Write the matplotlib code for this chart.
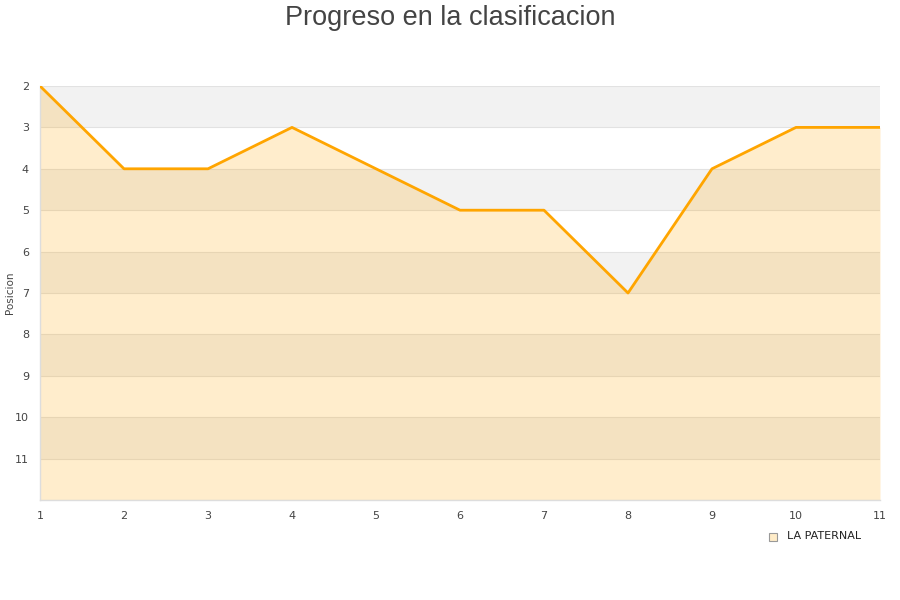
import matplotlib
matplotlib.use("Agg")
import matplotlib.pyplot as plt

jornadas = [1, 2, 3, 4, 5, 6, 7, 8, 9, 10, 11]
posicion = [2, 4, 4, 3, 4, 5, 5, 7, 4, 3, 3]
equipo = "LA PATERNAL"
y_ticks = [2, 3, 4, 5, 6, 7, 8, 9, 10, 11]

fig = plt.figure(figsize=(9, 6), dpi=100)
ax = fig.add_axes([40/900, 1 - 500/600, 840/900, 414/600])

ymin, ymax = 2, 12
for k in range(ymin, ymax, 2):
    ax.axhspan(k, k + 1, color="#f2f2f2", zorder=0, lw=0)
for k in y_ticks + [12]:
    ax.axhline(k, color="#e2e2e2", lw=0.8, zorder=1)

ax.fill_between(jornadas, posicion, ymax, color="#ffa500", alpha=0.2, lw=0, zorder=2)
ax.plot(jornadas, posicion, color="#ffa500", lw=2.0, zorder=3)

ax.set_xlim(1, 11)
ax.set_ylim(ymax, ymin)
ax.set_xticks(jornadas)
ax.set_yticks(y_ticks)
ax.tick_params(axis="both", length=0, labelsize=8, colors="#444444")
ax.tick_params(axis="x", pad=8)
ax.tick_params(axis="y", pad=8)
for s in ["top", "right"]:
    ax.spines[s].set_visible(False)
for s in ["left", "bottom"]:
    ax.spines[s].set_color("#dddddd")
    ax.spines[s].set_linewidth(1)

fig.text(10/900, 1 - 293/600, "Posicion", rotation=90, ha="center", va="center",
         fontsize=7.5, color="#444444")

fig.text(0.5, 1 - 25/600, "Progreso en la clasificacion", ha="center", va="baseline",
         fontsize=19.5, color="#444444", family="Liberation Sans")

# legend
fig.patches.append(plt.Rectangle((769/900, 1 - 541/600), 8/900, 8/600,
                                 transform=fig.transFigure, facecolor="#ffecc8",
                                 edgecolor="#999999", lw=0.8))
fig.text(787/900, 1 - 536/600, equipo, ha="left", va="center", fontsize=8, color="#222222")

fig.savefig("out.png", dpi=100)
